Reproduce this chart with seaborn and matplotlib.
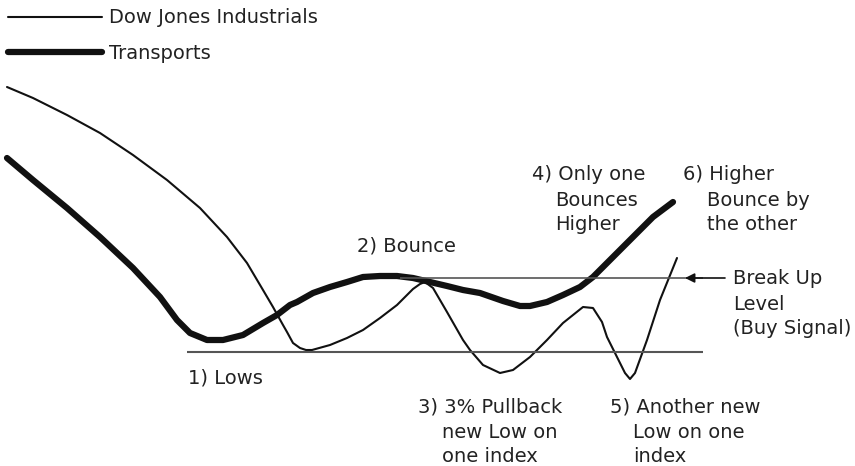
import matplotlib
matplotlib.use("Agg")
import matplotlib.pyplot as plt
import seaborn as sns
import pandas as pd
from matplotlib.lines import Line2D

# Schematic values (x = time position, y = price level; screen-like units, larger y = lower)
dow_x = [7, 33, 67, 100, 133, 167, 200, 227, 247, 263, 273, 283, 287, 293, 300, 306, 312,
         330, 347, 363, 380, 397, 413, 420, 425, 433, 447, 463, 470, 483, 500, 513, 530,
         547, 563, 583, 593, 602, 607, 617, 625, 630, 635, 647, 660, 677]
dow_y = [87, 98, 115, 133, 155, 180, 208, 237, 263, 290, 307, 325, 332, 343, 348, 350, 350,
         345, 338, 330, 318, 305, 289, 284, 282, 288, 312, 340, 350, 365, 373, 370, 357,
         340, 323, 307, 308, 322, 337, 357, 373, 379, 373, 340, 300, 258]

trn_x = [7, 33, 67, 100, 133, 160, 177, 190, 207, 223, 243, 263, 277, 290, 297, 313, 330,
         347, 363, 380, 397, 413, 430, 447, 463, 480, 503, 520, 530, 547, 563, 580, 593,
         607, 620, 637, 653, 673]
trn_y = [158, 180, 208, 237, 268, 297, 320, 333, 340, 340, 335, 323, 315, 305, 302, 293, 287,
         282, 277, 276, 276, 278, 282, 286, 290, 293, 301, 306, 306, 302, 295, 287, 277,
         263, 250, 233, 217, 202]

series_names = ["Dow Jones Industrials", "Transports"]

lows_level = 352
lows_span = [187, 703]
breakup_level = 278
breakup_span = [400, 703]

notes = [
    (188, 378, "1) Lows"),
    (357, 246, "2) Bounce"),
    (418, 407, "3) 3% Pullback"), (442, 432, "new Low on"), (442, 457, "one index"),
    (532, 175, "4) Only one"), (555, 200, "Bounces"), (555, 225, "Higher"),
    (610, 407, "5) Another new"), (633, 432, "Low on one"), (633, 457, "index"),
    (683, 175, "6) Higher"), (707, 200, "Bounce by"), (707, 225, "the other"),
    (733, 278, "Break Up"), (733, 304, "Level"), (733, 329, "(Buy Signal)"),
]

sns.set_theme(style="white")
plt.rcParams["font.family"] = ["DejaVu Sans"]

fig = plt.figure(figsize=(8.55, 4.66), dpi=100)
ax = fig.add_axes([0, 0, 1, 1])
ax.set_xlim(0, 855)
ax.set_ylim(466, 0)
ax.axis("off")

df = pd.concat([
    pd.DataFrame({"x": dow_x, "y": dow_y, "s": series_names[0]}),
    pd.DataFrame({"x": trn_x, "y": trn_y, "s": series_names[1]}),
])
sns.lineplot(data=df, x="x", y="y", hue="s", size="s",
             palette={series_names[0]: "#111111", series_names[1]: "#111111"},
             sizes={series_names[0]: 1.5, series_names[1]: 4.5},
             sort=False, estimator=None, ax=ax, legend=False)
for ln in ax.get_lines():
    ln.set_solid_joinstyle("round")

ax.hlines(lows_level, *lows_span, color="#555555", lw=1.5)
ax.hlines(breakup_level, *breakup_span, color="#555555", lw=1.2)

ax.annotate("", xy=(685, breakup_level), xytext=(725, breakup_level),
            arrowprops=dict(arrowstyle="-|>", color="#111111", lw=1.2,
                            mutation_scale=14, shrinkA=0, shrinkB=0))

for x, y, t in notes:
    ax.text(x, y, t, fontsize=14, color="#222222", ha="left", va="center")

handles = [Line2D([], [], color="#111111", lw=1.5), Line2D([], [], color="#111111", lw=4.5)]
leg = ax.legend(handles, series_names, loc="upper left", bbox_to_anchor=(0.0, 1.0),
                frameon=False, fontsize=14, handlelength=4.8, handletextpad=0.4,
                labelspacing=0.85, borderpad=0.28, borderaxespad=0.15)
for t in leg.get_texts():
    t.set_color("#222222")

fig.savefig("out.png", dpi=100)
